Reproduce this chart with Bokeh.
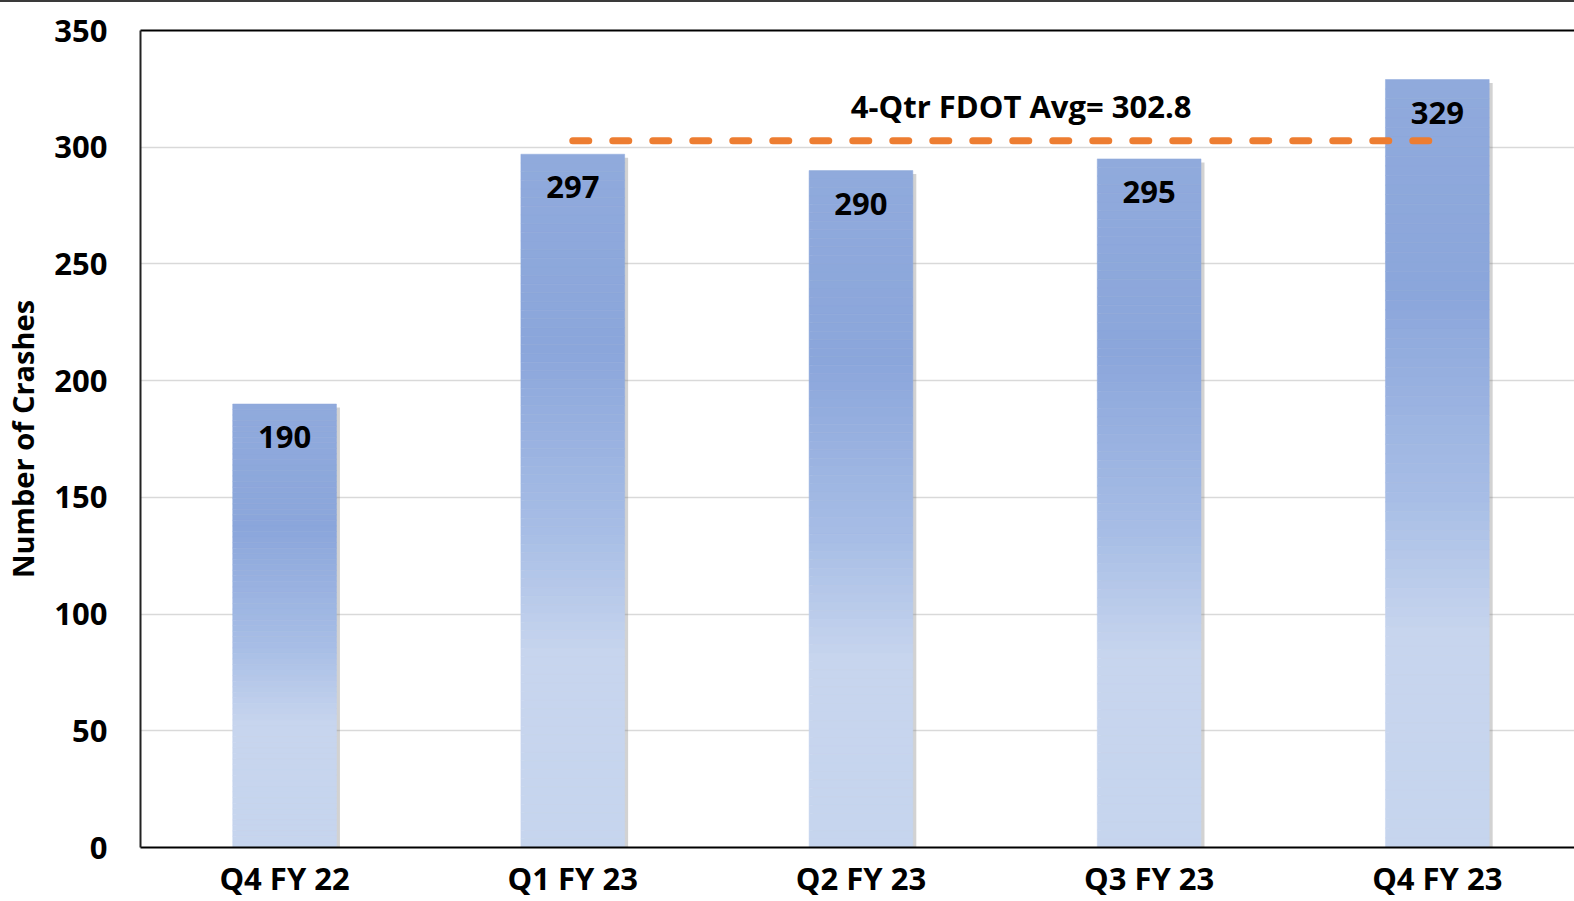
from bokeh.plotting import figure
from bokeh.models import Range1d, LinearAxis, Label, FixedTicker, ColumnDataSource
from bokeh.core.properties import value
from bokeh.embed import file_html
from bokeh.resources import INLINE

categories = ["Q4 FY 22", "Q1 FY 23", "Q2 FY 23", "Q3 FY 23", "Q4 FY 23"]
crashes = [190, 297, 290, 295, 329]
avg_value = 302.8
avg_label = "4-Qtr FDOT Avg= 302.8"
avg_from, avg_to = "Q1 FY 23", "Q4 FY 23"
y_ticks = [0, 50, 100, 150, 200, 250, 300, 350]
y_title = "Number of Crashes"

FONT = "Open Sans"
BAR_W = 0.36
X_END = 4.976  # visible part of the category axis (last slot is cut at the right edge)

# category slot centres on the numeric x scale
xpos = [i + 0.5 for i in range(len(categories))]
pos_of = dict(zip(categories, xpos))

# gradient stops (fraction from top of bar, rgb)
stops = [(0.0, (144, 170, 220)), (0.28, (139, 166, 219)), (0.55, (168, 190, 230)),
         (0.72, (199, 213, 238)), (1.0, (198, 213, 238))]


def grad_color(f):
    for (f0, c0), (f1, c1) in zip(stops[:-1], stops[1:]):
        if f0 <= f <= f1:
            t = (f - f0) / (f1 - f0) if f1 > f0 else 0
            return "#%02x%02x%02x" % tuple(int(round(a + (b - a) * t)) for a, b in zip(c0, c1))
    return "#%02x%02x%02x" % stops[-1][1]


p = figure(x_range=Range1d(0, X_END), y_range=Range1d(0, 350),
           width=1574, height=899, output_backend="svg", toolbar_location=None,
           min_border_left=140, min_border_right=0, min_border_top=28, min_border_bottom=54)
p.styles = {"border-top": "2px solid #3a3a3a"}
p.outline_line_color = None
p.background_fill_color = "white"
p.border_fill_color = "white"

# grid
p.xgrid.grid_line_color = None
p.ygrid.ticker = FixedTicker(ticks=y_ticks)
p.ygrid.grid_line_color = "#d9d9d9"
p.ygrid.grid_line_width = 1.5

# axes
p.yaxis.ticker = FixedTicker(ticks=y_ticks)
p.yaxis.axis_line_color = "#222222"
p.yaxis.axis_line_width = 2
p.yaxis.major_tick_line_color = None
p.yaxis.minor_tick_line_color = None
p.yaxis.major_tick_out = 0
p.yaxis.minor_tick_out = 0
p.yaxis.major_label_text_font = FONT
p.yaxis.major_label_text_font_style = "bold"
p.yaxis.major_label_text_font_size = "31px"
p.yaxis.major_label_text_color = "black"
p.yaxis.major_label_standoff = 33
p.yaxis.axis_label = y_title
p.yaxis.axis_label_text_font = FONT
p.yaxis.axis_label_text_font_style = "bold"
p.yaxis.axis_label_text_font_size = "29px"
p.yaxis.axis_label_text_color = "black"
p.yaxis.axis_label_standoff = 9

p.xaxis.ticker = FixedTicker(ticks=xpos)
p.xaxis.major_label_overrides = {x: c for x, c in zip(xpos, categories)}
p.xaxis.axis_line_color = "black"
p.xaxis.axis_line_width = 2
p.xaxis.major_tick_line_color = None
p.xaxis.minor_tick_line_color = None
p.xaxis.major_tick_out = 0
p.xaxis.minor_tick_out = 0
p.xaxis.major_label_text_font = FONT
p.xaxis.major_label_text_font_style = "bold"
p.xaxis.major_label_text_font_size = "31px"
p.xaxis.major_label_text_color = "black"
p.xaxis.major_label_standoff = 9

top_axis = LinearAxis(ticker=FixedTicker(ticks=[]), axis_line_color="black", axis_line_width=2,
                      major_tick_line_color=None, minor_tick_line_color=None,
                      major_tick_out=0, minor_tick_out=0,
                      major_label_text_color=None, major_label_text_font_size="0px",
                      major_label_standoff=0)
p.add_layout(top_axis, "above")

# bar shadows
p.vbar(x=[x + 0.012 for x in xpos], width=BAR_W, top=[v - 1.5 for v in crashes], bottom=0,
       fill_color="#7f7f7f", fill_alpha=0.35, line_color=None)

# gradient bars
N = 80
xs, bots, tops, cols = [], [], [], []
for x, v in zip(xpos, crashes):
    for k in range(N):
        f_top = k / N
        f_bot = (k + 1) / N
        xs.append(x)
        tops.append(v * (1 - f_top))
        bots.append(v * (1 - f_bot))
        cols.append(grad_color((f_top + f_bot) / 2))
p.vbar(x=xs, width=BAR_W, top=tops, bottom=bots, fill_color=cols, line_color=cols, line_width=0.5)

# value labels
p.text(x=xpos, y=crashes, text=[str(v) for v in crashes], y_offset=33,
       text_align="center", text_baseline="middle", text_font=value(FONT),
       text_font_style="bold", text_font_size="31px", text_color="black")

# average line
p.line(x=[pos_of[avg_from], pos_of[avg_to]], y=[avg_value, avg_value], line_color="#ed7d31",
       line_width=7, line_dash="16 24", line_cap="round")
p.add_layout(Label(x=3.056, y=avg_value, text=avg_label, y_offset=35,
                   text_align="center", text_baseline="middle", text_font=FONT,
                   text_font_style="bold", text_font_size="31px", text_color="black"))

open("out.html", "w").write(file_html(p, INLINE))
